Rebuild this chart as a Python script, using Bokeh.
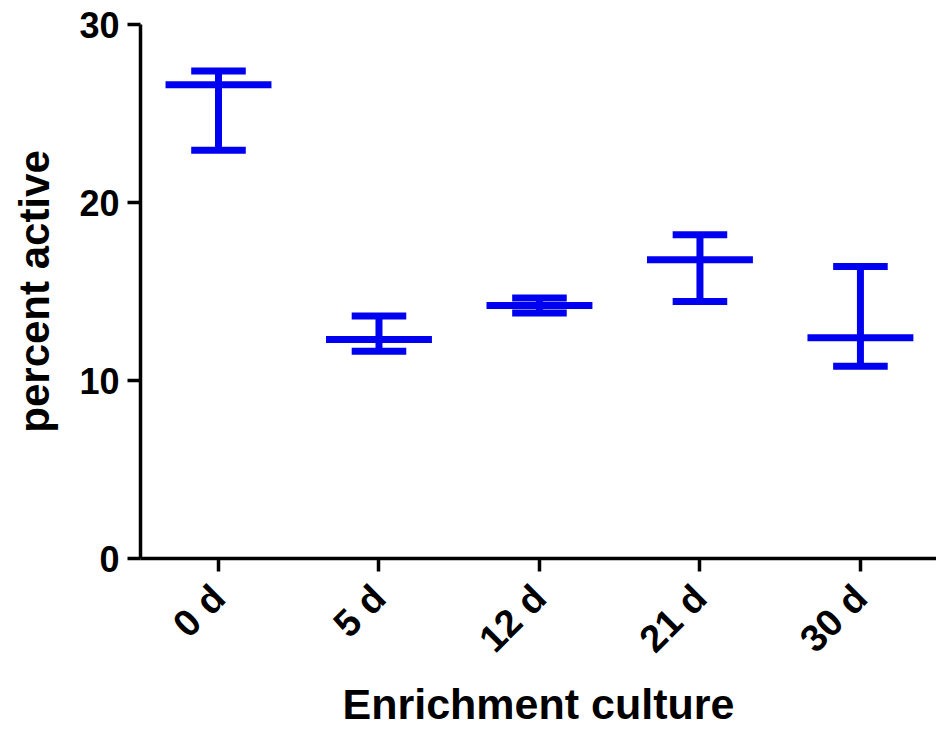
import numpy as np
from bokeh.plotting import figure
from bokeh.models import Range1d, FixedTicker, ColumnDataSource
from bokeh.embed import file_html
from bokeh.resources import INLINE

categories = ["0 d", "5 d", "12 d", "21 d", "30 d"]
means = [26.62, 12.30, 14.21, 16.78, 12.40]
upper = [27.39, 13.63, 14.63, 18.19, 16.41]
lower = [22.93, 11.64, 13.79, 14.44, 10.80]
y_ticks = [0, 10, 20, 30]

MEAN_HALF = 0.33
CAP_HALF = 0.17
BLUE = "#0000f0"
FONT = "Liberation Sans"

x = np.arange(len(categories), dtype=float)
src = ColumnDataSource(dict(
    x=x, mean=means, upper=upper, lower=lower,
    m0=x - MEAN_HALF, m1=x + MEAN_HALF,
    c0=x - CAP_HALF, c1=x + CAP_HALF,
))

p = figure(width=936, height=731,
           x_range=Range1d(-0.486, 4.474), y_range=Range1d(0, 30),
           output_backend="svg", toolbar_location=None,
           min_border_left=140, min_border_top=24,
           min_border_right=0, min_border_bottom=173)

p.outline_line_color = None
p.grid.visible = False
p.background_fill_color = "white"
p.border_fill_color = "white"

# vertical stems
p.segment(x0="x", y0="lower", x1="x", y1="upper", source=src,
          line_color=BLUE, line_width=7)
# caps
p.segment(x0="c0", y0="upper", x1="c1", y1="upper", source=src,
          line_color=BLUE, line_width=7)
p.segment(x0="c0", y0="lower", x1="c1", y1="lower", source=src,
          line_color=BLUE, line_width=7)
# mean lines
p.segment(x0="m0", y0="mean", x1="m1", y1="mean", source=src,
          line_color=BLUE, line_width=7)

for ax in (p.xaxis[0], p.yaxis[0]):
    ax.axis_line_width = 3.5
    ax.axis_line_color = "black"
    ax.major_tick_line_width = 3.5
    ax.major_tick_line_color = "black"
    ax.major_tick_out = 13
    ax.major_tick_in = 0
    ax.minor_tick_line_color = None
    ax.major_label_text_font = FONT
    ax.major_label_text_font_style = "bold"
    ax.major_label_text_color = "black"
    ax.axis_label_text_font = FONT
    ax.axis_label_text_font_style = "bold"
    ax.axis_label_text_color = "black"

p.yaxis.ticker = FixedTicker(ticks=y_ticks)
p.yaxis.major_label_text_font_size = "36px"
p.yaxis.major_label_standoff = 8
p.yaxis.axis_label = "percent active"
p.yaxis.axis_label_text_font_size = "42px"
p.yaxis.axis_label_standoff = 18

p.xaxis.ticker = FixedTicker(ticks=list(x))
p.xaxis.major_label_overrides = {int(i): c for i, c in enumerate(categories)}
p.xaxis.major_label_orientation = np.pi / 4
p.xaxis.major_label_text_font_size = "38px"
p.xaxis.major_label_standoff = 20
p.xaxis.axis_label = "Enrichment culture"
p.xaxis.axis_label_text_font_size = "43px"
p.xaxis.axis_label_standoff = 2

open("out.html", "w").write(file_html(p, INLINE))
